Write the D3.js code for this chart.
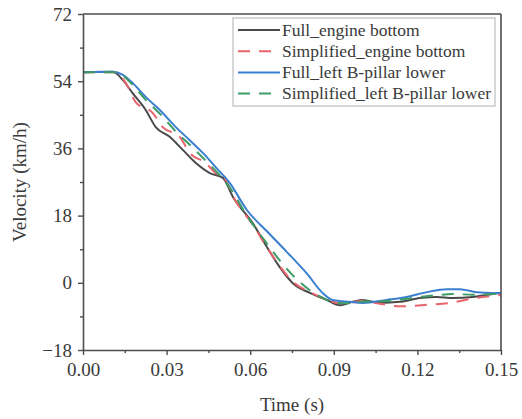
<!DOCTYPE html>
<html><head><meta charset="utf-8">
<script src="https://cdn.jsdelivr.net/npm/d3@7"></script>
<style>body{margin:0;background:#fff}svg{display:block}svg text{font-family:"Liberation Serif","Times New Roman",Times,"DejaVu Serif",serif !important}</style>
</head><body><svg id="c" width="522" height="419"></svg>
<script>
// ---- data ----
const seriesNames = ["Full_engine bottom","Simplified_engine bottom","Full_left B-pillar lower","Simplified_left B-pillar lower"];
const xTicks = [0.00,0.03,0.06,0.09,0.12,0.15];
const yTicks = [-18,0,18,36,54,72];
const fullEngineT = [0,0.0107,0.0143,0.0178,0.0225,0.0261,0.0311,0.0358,0.0405,0.0455,0.0502,0.0538,0.0609,0.066,0.0706,0.0753,0.0814,0.0875,0.0922,0.0968,0.1004,0.1065,0.1137,0.1209,0.127,0.1327,0.1399,0.147,0.15];
const fullEngineV = [56.4,56.5,54.3,50.8,46.3,41.7,39.1,35.6,32.1,29.4,28.1,23.0,16.0,9.6,4.2,-0.1,-2.7,-4.6,-6.0,-5.1,-4.6,-5.4,-5.1,-4.1,-3.8,-4.1,-3.8,-3.0,-2.7];
const simpEngineT = [0,0.0107,0.0154,0.0189,0.025,0.0286,0.0347,0.0383,0.044,0.0476,0.0512,0.054,0.061,0.066,0.0706,0.0753,0.0814,0.0875,0.0922,0.097,0.1004,0.1065,0.1137,0.1234,0.1316,0.1404,0.15];
const simpEngineV = [56.4,56.4,53.5,48.4,45.5,41.7,39.1,34.8,32.1,29.4,27.5,23.0,15.5,9.5,4.5,0.3,-2.5,-4.5,-5.5,-5.2,-4.8,-5.6,-6.3,-5.9,-5.4,-4.1,-3.3];
const fullPillarT = [0,0.0107,0.0143,0.0178,0.0225,0.0286,0.0333,0.0383,0.043,0.0476,0.0527,0.0588,0.066,0.0731,0.0803,0.0861,0.0896,0.0957,0.1004,0.109,0.1162,0.1234,0.1306,0.1352,0.1413,0.147,0.15];
const fullPillarV = [56.4,56.5,55.7,53.5,49.8,45.5,41.7,38.2,34.8,31.0,26.7,19.5,13.8,8.3,2.5,-2.8,-4.6,-5.1,-5.4,-4.6,-3.8,-2.5,-1.7,-1.7,-2.5,-2.7,-2.7];
const simpPillarT = [0,0.0107,0.0143,0.0178,0.0225,0.0286,0.0333,0.0383,0.043,0.0476,0.0527,0.0588,0.066,0.0706,0.0753,0.0814,0.0875,0.0922,0.097,0.1004,0.1065,0.1137,0.1209,0.127,0.1327,0.1399,0.147,0.15];
const simpPillarV = [56.4,56.4,55.5,53.0,49.0,44.5,40.5,37.0,33.5,30.0,25.5,18.0,10.5,6.0,2.0,-2.0,-4.5,-5.5,-5.5,-5.0,-5.0,-4.5,-3.8,-3.3,-3.0,-3.2,-3.0,-2.8];

const colors = ["#4a4a4a","#e8636b","#3a7fcf","#3d9b66"];
const dashes = [null,"12,9",null,"12,9"];
const data = [[fullEngineT,fullEngineV],[simpEngineT,simpEngineV],[fullPillarT,fullPillarV],[simpPillarT,simpPillarV]]
  .map(([t,v])=>t.map((d,i)=>({t:d,v:v[i]})));

// ---- layout ----
const L=83,R=501,T=14,B=350;
const svg=d3.select("#c");
const x=d3.scaleLinear().domain([0,0.15]).range([L,R]);
const y=d3.scaleLinear().domain([-18,72]).range([B,T]);
const axCol="#4d4d4d", txtCol="#3a3a3a";

const line=d3.line().x(d=>x(d.t)).y(d=>y(d.v)).curve(d3.curveMonotoneX);
const g=svg.append("g");
data.forEach((d,i)=>{
  g.append("path").datum(d).attr("d",line).attr("fill","none")
   .attr("stroke",colors[i]).attr("stroke-width",2)
   .attr("stroke-dasharray",dashes[i]);
});

// frame
svg.append("line").attr("x1",L).attr("x2",R).attr("y1",T).attr("y2",T).attr("stroke",axCol).attr("stroke-width",1.6);
svg.append("line").attr("x1",R).attr("x2",R).attr("y1",T).attr("y2",B).attr("stroke",axCol).attr("stroke-width",1.6);

// axes
const xMinor=d3.range(0.015,0.15,0.03);
const yMinor=d3.range(-9,72,18);
svg.append("g").attr("transform",`translate(0,${B})`)
  .call(d3.axisBottom(x).tickValues(xTicks).tickFormat(d3.format(".2f")).tickSizeInner(5).tickSizeOuter(0).tickPadding(8));
svg.append("g").attr("transform",`translate(0,${B})`)
  .call(d3.axisBottom(x).tickValues(xMinor).tickFormat("").tickSizeInner(3).tickSizeOuter(0)).select(".domain").remove();
svg.append("g").attr("transform",`translate(${L},0)`)
  .call(d3.axisLeft(y).tickValues(yTicks).tickSizeInner(5).tickSizeOuter(0).tickPadding(6));
svg.append("g").attr("transform",`translate(${L},0)`)
  .call(d3.axisLeft(y).tickValues(yMinor).tickFormat("").tickSizeInner(3).tickSizeOuter(0)).select(".domain").remove();
svg.selectAll(".domain").attr("stroke",axCol).attr("stroke-width",1.6);
svg.selectAll(".tick line").attr("stroke",axCol).attr("stroke-width",1.4);
svg.selectAll(".tick text").attr("fill",txtCol).style("font-size","19px");

svg.append("text").attr("x",(L+R)/2).attr("y",411).attr("text-anchor","middle")
  .attr("fill",txtCol).style("font-size","19px").text("Time (s)");
svg.append("text").attr("transform",`translate(26,${(T+B)/2}) rotate(-90)`).attr("text-anchor","middle")
  .attr("fill",txtCol).style("font-size","19px").text("Velocity (km/h)");

// legend
const lg=svg.append("g");
lg.append("rect").attr("x",233).attr("y",18).attr("width",262).attr("height",88)
  .attr("fill","#fff").attr("stroke","#b0b0b0").attr("stroke-width",1);
seriesNames.forEach((n,i)=>{
  const yy=30+i*21.2;
  lg.append("line").attr("x1",238).attr("x2",280).attr("y1",yy).attr("y2",yy)
    .attr("stroke",colors[i]).attr("stroke-width",2).attr("stroke-dasharray",dashes[i]);
  lg.append("text").attr("x",282).attr("y",yy+5.5).attr("fill",txtCol)
    .style("font-size","17.5px").text(n);
});
</script></body></html>
